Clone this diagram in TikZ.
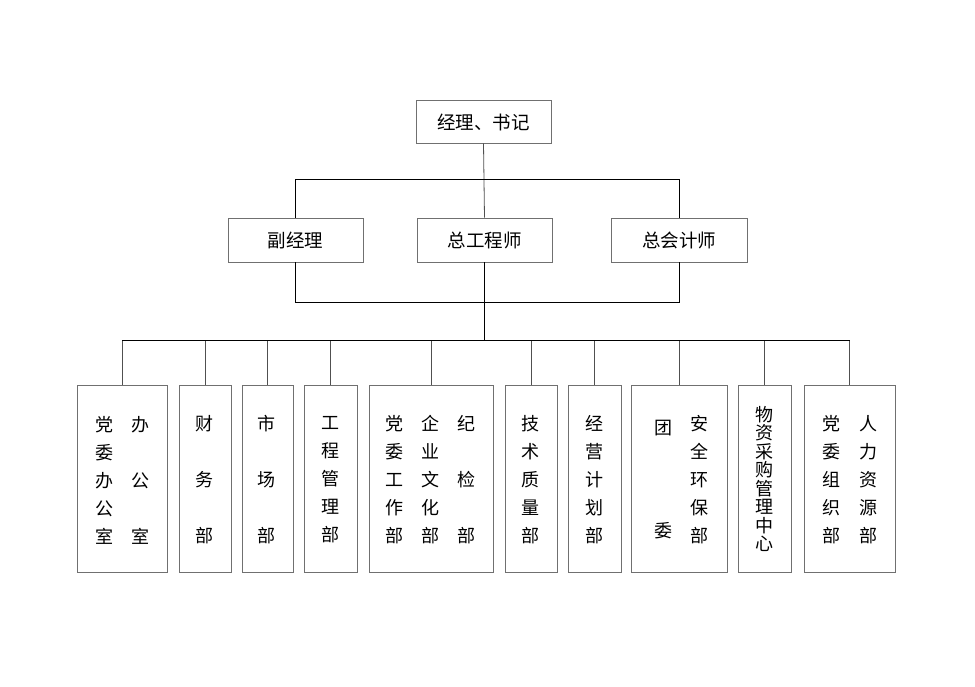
\documentclass[tikz,border=0pt]{standalone}
\usepackage{fontspec}
\newfontfamily\cjk{Noto Sans CJK SC}
\definecolor{boxgray}{HTML}{707070}
\definecolor{linegray}{HTML}{505050}
\begin{document}
\begin{tikzpicture}[x=1pt,y=-1pt,
  box/.style={draw=boxgray, line width=0.9pt, inner sep=0pt, fill=none},
  toptxt/.style={font=\cjk\fontsize{18.5}{20}\selectfont, inner sep=0pt},
  col/.style={font=\cjk\fontsize{18}{28}\selectfont, align=center, inner sep=0pt},
  colwide/.style={font=\cjk\fontsize{18}{56}\selectfont, align=center, inner sep=0pt},
  coltuan/.style={font=\cjk\fontsize{18}{103}\selectfont, align=center, inner sep=0pt},
  coltight/.style={font=\cjk\fontsize{18}{18.5}\selectfont, align=center, inner sep=0pt},
  conn/.style={draw=black, line width=0.8pt},
  drop/.style={draw=linegray, line width=0.8pt}]
\useasboundingbox (0,0) rectangle (975,687);
\fill[white] (0,0) rectangle (975,687);

% top level
\node[box, minimum width=135pt, minimum height=43pt] (top) at (483.5,121.5) {};
\node[toptxt] (toptext) at (483.5,122) {经理、书记};

% second level
\node[box, minimum width=135pt, minimum height=44pt] (fu) at (295.5,240) {};
\node[toptxt] (futext) at (295.5,240) {副经理};
\node[box, minimum width=135pt, minimum height=44pt] (zong) at (484.5,240) {};
\node[toptxt] (zongtext) at (484.5,240) {总工程师};
\node[box, minimum width=136pt, minimum height=44pt] (kuai) at (679,240) {};
\node[toptxt] (kuaitext) at (679,240) {总会计师};

% bottom boxes
\node[box, minimum width=90pt,  minimum height=187pt] (b1)  at (122,478.5) {};
\node[box, minimum width=52pt,  minimum height=187pt] (b2)  at (205,478.5) {};
\node[box, minimum width=51pt,  minimum height=187pt] (b3)  at (267.5,478.5) {};
\node[box, minimum width=53pt,  minimum height=187pt] (b4)  at (330.5,478.5) {};
\node[box, minimum width=124pt, minimum height=187pt] (b5)  at (431,478.5) {};
\node[box, minimum width=52pt,  minimum height=187pt] (b6)  at (531,478.5) {};
\node[box, minimum width=53pt,  minimum height=187pt] (b7)  at (594.5,478.5) {};
\node[box, minimum width=96pt,  minimum height=187pt] (b8)  at (679,478.5) {};
\node[box, minimum width=53pt,  minimum height=187pt] (b9)  at (764.5,478.5) {};
\node[box, minimum width=91pt,  minimum height=187pt] (b10) at (849.5,478.5) {};

% texts in bottom boxes
\node[col]     (t1a) at (104.3,480) {党\\委\\办\\公\\室};
\node[colwide] (t1b) at (140,480) {办\\公\\室};
\node[colwide] (t2)  at (204,480) {财\\务\\部};
\node[colwide] (t3)  at (266.7,480) {市\\场\\部};
\node[col]     (t4)  at (330,480) {工\\程\\管\\理\\部};
\node[col]     (t5a) at (394,480) {党\\委\\工\\作\\部};
\node[col]     (t5b) at (430,480) {企\\业\\文\\化\\部};
\node[colwide] (t5c) at (466,480) {纪\\检\\部};
\node[col]     (t6)  at (530,480) {技\\术\\质\\量\\部};
\node[col]     (t7)  at (594.3,480) {经\\营\\计\\划\\部};
\node[coltuan] (t8a) at (663.3,480) {团\\委};
\node[col]     (t8b) at (699.3,480) {安\\全\\环\\保\\部};
\node[coltight](t9)  at (764.3,479) {物\\资\\采\\购\\管\\理\\中\\心};
\node[col]     (t10a) at (831.7,480) {党\\委\\组\\织\\部};
\node[col]     (t10b) at (868.3,480) {人\\力\\资\\源\\部};

% helper coordinates
\coordinate (ub) at (484,179.5);
\coordinate (lb) at (484,302);
\coordinate (bus) at (484,340.5);

% connectors
\draw[drop] (top.south) -- (zong.north);
\draw[conn] (fu.north) -- (fu.north |- ub) -- (kuai.north |- ub) -- (kuai.north);
\draw[conn] (fu.south) -- (fu.south |- lb) -- (kuai.south |- lb) -- (kuai.south);
\draw[conn] (zong.south) -- (zong.south |- bus);
\draw[conn] (b1.north |- bus) -- (b10.north |- bus);
\foreach \b in {b1,b2,b3,b4,b5,b6,b7,b8,b9,b10}
  \draw[drop] (\b.north) -- (\b.north |- bus);
\end{tikzpicture}
\end{document}
